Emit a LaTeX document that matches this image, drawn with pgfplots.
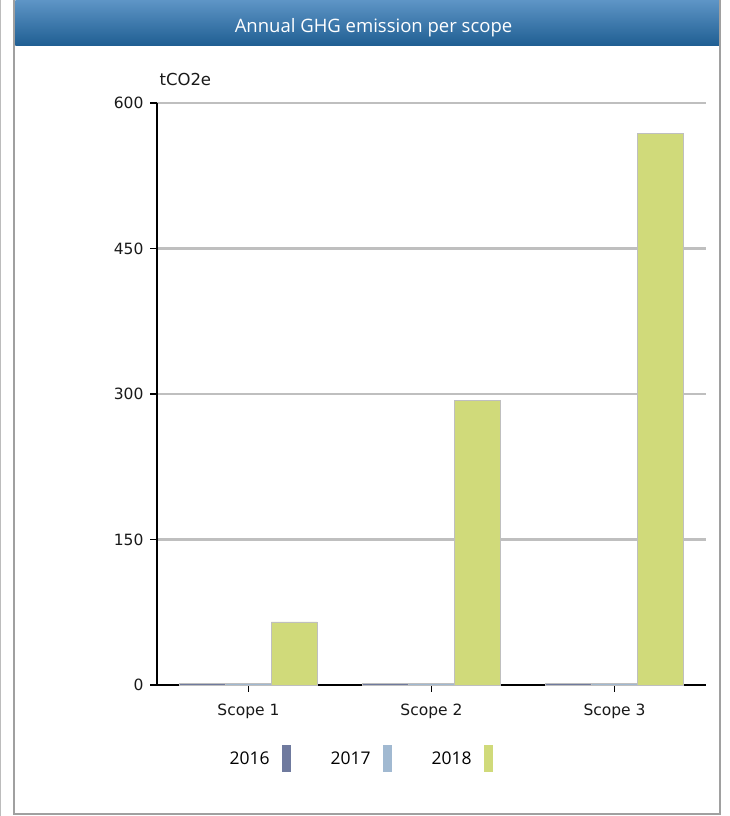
\documentclass[border=0pt]{standalone}
\usepackage{pgfplots}
\pgfplotsset{compat=1.18}
\usepackage{fontspec}
\setmainfont{Open Sans}
\newfontfamily\tickfont{DejaVu Sans}
\definecolor{cA}{HTML}{6F7A9E}
\definecolor{cB}{HTML}{A1B9D1}
\definecolor{cC}{HTML}{D0DA7A}
\definecolor{bannerTop}{HTML}{5E95C6}
\definecolor{bannerBot}{HTML}{1F5E92}
\definecolor{frame}{HTML}{A0A0A0}
\begin{document}
\begin{tikzpicture}[x=1pt,y=1pt]
\useasboundingbox (0,0) rectangle (729,816);
% frame
\fill[white] (0,0) rectangle (729,816);
\draw[frame!70, line width=1pt] (0.5,0) -- (0.5,816);
\draw[frame, line width=2.5pt] (14,816) -- (14,2) -- (720,2) -- (720,816);
% banner
\shade[top color=bannerTop, bottom color=bannerBot] (15.25,770) rectangle (718.75,816);
\node[white, font=\fontsize{18.5}{20}\selectfont, anchor=base] at (373.5,783) {Annual GHG emission per scope};
\begin{axis}[
  at={(157pt,131pt)}, anchor=south west,
  scale only axis, width=549pt, height=582pt,
  xmin=-0.5, xmax=2.5, ymin=0, ymax=600,
  ybar, bar width=0.25, 
  xtick={0,1,2}, xticklabels={Scope 1,Scope 2,Scope 3},
  ytick={0,150,300,450,600},
  axis x line*=bottom, axis y line*=left,
  axis line style={black, line width=1.6pt},
  tick align=outside, major tick length=7pt,
  tick style={black, line width=1.2pt},
  ymajorgrids, major grid style={draw=gray!50, line width=2.4pt},
  /pgf/number format/assume math mode=true,
  ticklabel style={font=\tickfont\fontsize{15.5}{16}\selectfont, text=black!90},
  yticklabel style={xshift=-3pt},
  xticklabel style={yshift=-8pt},
  clip=false,
  legend columns=3,
  legend style={draw=none, fill=none, at={(0.37,-0.127)}, anchor=center,
    font=\fontsize{17.5}{18}\selectfont, legend cell align=right,
    /tikz/every odd column/.append style={column sep=10pt},
    /tikz/every even column/.append style={column sep=38pt}},
  legend plot pos=right,
  legend image code/.code={\fill[#1, draw=none] (0pt,-13.5pt) rectangle (9pt,13.5pt);},
]
\addplot[fill=cA, draw=gray!50, line width=0.8pt, bar shift=-0.25] coordinates {(0,2) (1,2) (2,2)};
\addplot[fill=cB, draw=gray!50, line width=0.8pt, bar shift=0] coordinates {(0,2) (1,2) (2,2)};
\addplot[fill=cC, draw=gray!50, line width=0.8pt, bar shift=0.25] coordinates {(0,65) (1,293) (2,569)};
\legend{2016,2017,2018}
\end{axis}
\node[anchor=base west, font=\tickfont\fontsize{16.5}{17}\selectfont, text=black!90] at (156,730) {tCO2e};
\end{tikzpicture}
\end{document}
